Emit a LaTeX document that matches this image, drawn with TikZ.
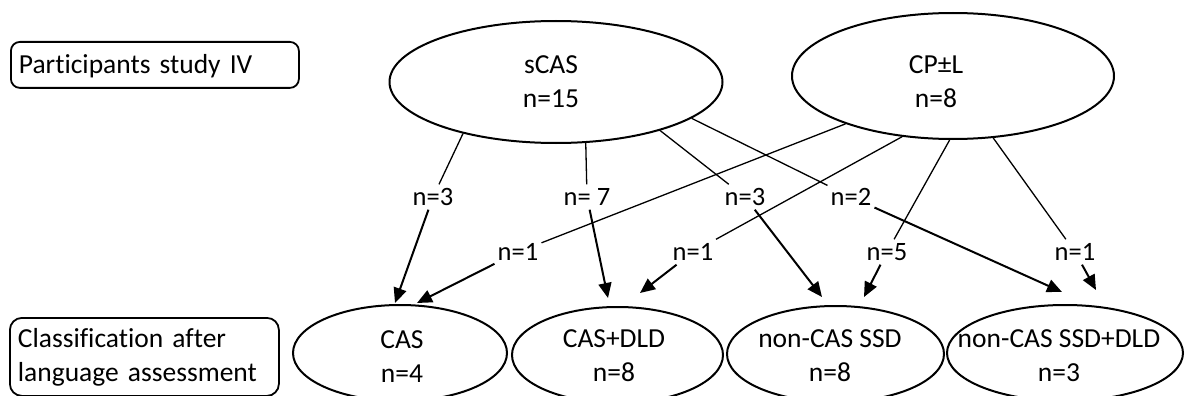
\documentclass[tikz,border=0pt]{standalone}
\usepackage{fontspec}
\setmainfont{Carlito}[Ligatures=NoCommon]
\usetikzlibrary{arrows.meta,shapes.geometric}
\begin{document}
\begin{tikzpicture}[x=1pt,y=-1pt,
  every node/.style={font=\fontsize{27.5}{34}\selectfont},
  oval/.style={draw, ellipse, line width=2pt, inner sep=0pt},
  caption/.style={draw, rounded corners=9pt, line width=1.8pt, anchor=north west,
                  align=left, inner xsep=8pt, inner ysep=0pt},
  ovaltext/.style={align=center, inner sep=0pt},
  count/.style={font=\fontsize{26.5}{34}\selectfont, inner xsep=3pt, inner ysep=4pt,
                text height=17pt, text depth=0pt},
  feed/.style={line width=1.3pt},
  arr/.style={line width=2pt, -{Triangle[length=15pt,width=13pt]}},
]
\clip (0,0) rectangle (1187,396);

% row captions
\node[caption, minimum width=288pt, minimum height=46pt, text width=272pt,
      text height=20pt, text depth=2pt] (rowtop) at (10,41) {Participants study IV};
\node[caption, minimum width=269pt, minimum height=78pt, text width=253pt,
      rounded corners=12pt] (rowbot) at (9,317) {Classification after\\language assessment};

% participant groups
\node[oval, minimum width=333pt, minimum height=122pt] (scas) at (556,82) {};
\node[ovaltext] (scas-t) at (551,81.5) {sCAS\\n=15};
\node[oval, minimum width=322pt, minimum height=126pt] (cp) at (953,76) {};
\node[ovaltext] (cp-t) at (936,81.5) {CP±L\\n=8};

% classification outcomes
\node[oval, minimum width=214pt, minimum height=96pt] (cas) at (400,353) {};
\node[ovaltext] (cas-t) at (402,356.5) {CAS\\n=4};
\node[oval, minimum width=211pt, minimum height=96pt] (casdld) at (617.5,355) {};
\node[ovaltext] (casdld-t) at (614,355.5) {CAS+DLD\\n=8};
\node[oval, minimum width=217pt, minimum height=96pt] (ssd) at (835.5,354) {};
\node[ovaltext] (ssd-t) at (830,356) {non-CAS SSD\\n=8};
\node[oval, minimum width=236pt, minimum height=96pt] (ssddld) at (1065,353) {};
\node[ovaltext] (ssddld-t) at (1059,356) {non-CAS SSD+DLD\\n=3};

% counts on the connectors
\node[count] (l1) at (433,197) {n=3};
\node[count] (l2) at (587,197) {n= 7};
\node[count] (l3) at (745,197) {n=3};
\node[count] (l4) at (851,197) {n=2};
\node[count] (l5) at (518,252) {n=1};
\node[count] (l6) at (693,252) {n=1};
\node[count] (l7) at (887,252) {n=5};
\node[count] (l8) at (1075,252) {n=1};

% arrow tips just above the outcome ovals
\coordinate (t1) at (395,303);
\coordinate (t2) at (608,298);
\coordinate (t3) at (822,297);
\coordinate (t4) at (1062,292);
\coordinate (t5) at (417,303);
\coordinate (t6) at (640,293);
\coordinate (t7) at (864,297);
\coordinate (t8) at (1096,290);

% sCAS flows
\draw[feed] (scas.-151.6) -- (l1);
\draw[arr]  (l1) -- (t1);
\draw[feed] (scas.-64.5) -- (l2);
\draw[arr]  (l2) -- (t2);
\draw[feed] (scas.-25.4) -- (l3);
\draw[arr]  (l3) -- (t3);
\draw[feed] (scas.-15.7) -- (l4);
\draw[arr]  (l4) -- (t4);

% CP flows
\draw[feed] (cp.-156.9) -- (l5);
\draw[arr]  (l5) -- (t5);
\draw[feed] (cp.-130.5) -- (l6);
\draw[arr]  (l6) -- (t6);
\draw[feed] (cp.-93.4) -- (l7);
\draw[arr]  (l7) -- (t7);
\draw[feed] (cp.-57.6) -- (l8);
\draw[arr]  (l8) -- (t8);
\end{tikzpicture}
\end{document}
